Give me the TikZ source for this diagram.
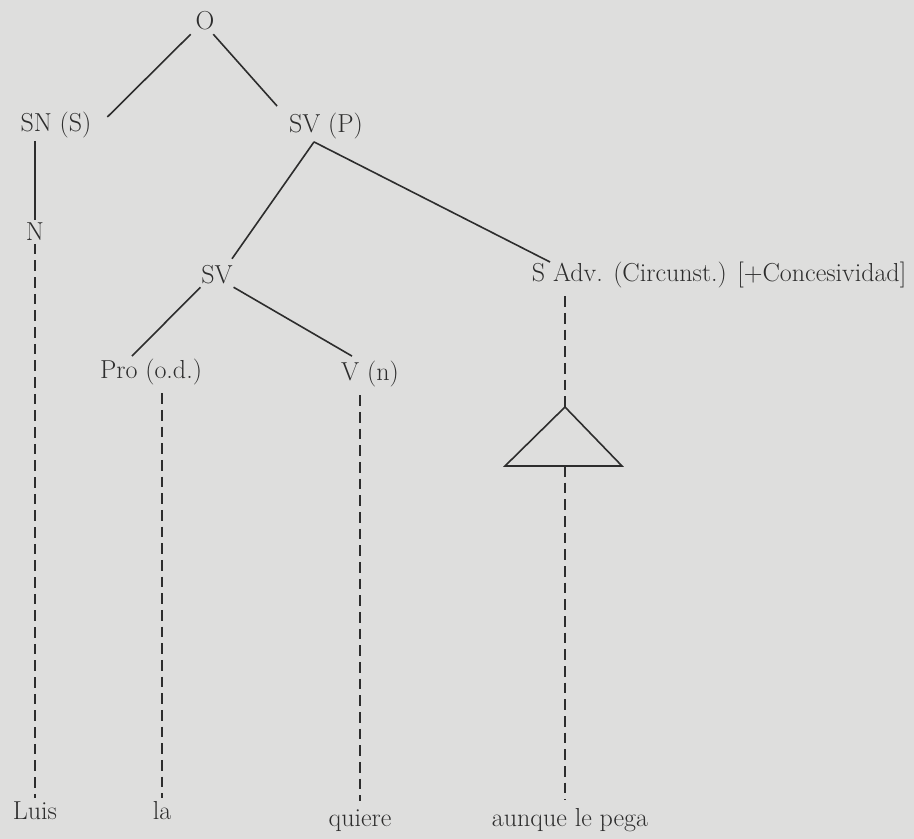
\documentclass[tikz,border=0pt]{standalone}
\usepackage{fontspec}
\begin{document}
\definecolor{paper}{RGB}{222,222,221}
\definecolor{ink}{RGB}{45,45,45}
\begin{tikzpicture}[x=0.75pt,y=-0.75pt,
  lbl/.style={inner sep=2pt,text=ink,font=\fontsize{19.5}{22}\selectfont},
  branch/.style={draw=ink,line width=1.2pt},
  trace/.style={draw=ink,line width=1.1pt,dash pattern=on 8pt off 4.5pt}]
  % sheet
  \fill[paper] (0,0) rectangle (914,839);
  \useasboundingbox (0,0) rectangle (914,839);

  % category labels
  \node[lbl] (O)    at (205,21)  {O};
  \node[lbl] (SNS)  at (56,125)  {SN (S)};
  \node[lbl] (SVP)  at (326,126) {SV (P)};
  \node[lbl] (N)    at (35,232)  {N};
  \node[lbl] (SV)   at (217,275) {SV};
  \node[lbl,anchor=west] (SAdv) at (529,275) {S Adv. (Circunst.) [+Concesividad]};
  \node[lbl] (Pro)  at (151,372) {Pro (o.d.)};
  \node[lbl] (Vn)   at (370,374) {V (n)};

  % words of the sentence
  \node[lbl,anchor=base] (Luis)   at (35,819)  {Luis};
  \node[lbl,anchor=base] (la)     at (162,819) {la};
  \node[lbl,anchor=base] (quiere) at (360,826) {quiere};
  \node[lbl,anchor=base] (aunque) at (570,826) {aunque le pega};

  % abbreviation triangle
  \coordinate (apex) at (565,407);
  \coordinate (bl) at (505,466);
  \coordinate (br) at (622,466);
  \coordinate (bm) at (565,466);
  \draw[branch,line join=miter] (bl) -- (apex) -- (br) -- cycle;

  % solid branches
  \draw[branch] ([shift={(-2,1)}]O.south west) -- ([shift={(13,-8)}]SNS.east);
  \draw[branch] ([shift={(-4,1)}]O.south east) -- ([shift={(-9,-4)}]SVP.north west);
  \coordinate (fork) at ([xshift=-9pt]SVP.south);
  \draw[branch] (fork) -- ([shift={(15,-4)}]SV.north);
  \draw[branch] (fork) -- ([shift={(21,-13)}]SAdv.west);
  \draw[branch] (SNS.south -| N) -- (N.north);
  \draw[branch] ([shift={(2,0)}]SV.south west) -- ([shift={(-19,0)}]Pro.north);
  \draw[branch] ([shift={(-2,0)}]SV.south east) -- ([shift={(-18,-2)}]Vn.north);

  % dashed traces down to the words
  \draw[trace] (N.south) -- (N |- Luis.north);
  \draw[trace] ([yshift=-4pt]Pro.south -| la) -- (la.north);
  \draw[trace] ([yshift=-4pt]Vn.south -| quiere) -- ([yshift=4pt]quiere.north);
  \draw[trace] ([yshift=-4pt]SAdv.south -| apex) -- (apex);
  \draw[trace] (bm) -- ([yshift=4pt]aunque.north -| bm);
\end{tikzpicture}
\end{document}
